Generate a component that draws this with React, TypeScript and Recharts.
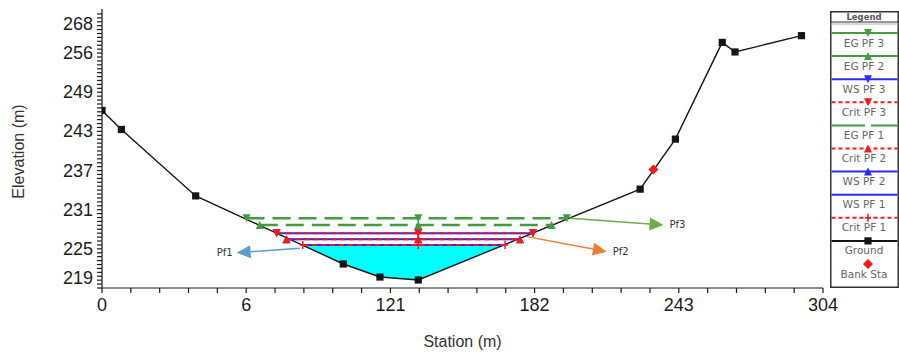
import React from 'react';
import { ComposedChart, Line, Area, Scatter, XAxis, YAxis, ReferenceLine, Legend, Label } from 'recharts';

// ---- Ground profile (station m, elevation m)
const groundStation = [0, 8.2, 39.6, 102.0, 117.5, 133.7, 227.5, 242.4, 262.2, 267.6, 295.7];
const groundElev = [247.1, 244.14, 233.8, 223.2, 221.17, 220.71, 234.85, 242.64, 257.7, 256.21, 258.75];
const bankStation = [233.1];
const bankElev = [237.9];

// ---- Water surface profiles
const profileNames = ['EG PF 3', 'EG PF 2', 'EG PF 1', 'WS PF 3', 'WS PF 2', 'WS PF 1', 'Crit PF 3', 'Crit PF 2', 'Crit PF 1'];
const profileElev = [230.33, 229.28, 227.05, 227.99, 227.05, 226.16, 227.99, 227.05, 226.16];
const profileLeft = [61.1, 66.7, 78.0, 73.8, 78.0, 84.9, 73.8, 78.0, 84.9];
const profileRight = [196.5, 190.1, 176.7, 182.2, 176.7, 170.4, 182.2, 176.7, 170.4];
const thalwegStation = 133.7;
const filledProfile = 'WS PF 1';

// ---- Annotation arrows
const arrowNames = ['Pf1', 'Pf2', 'Pf3'];
const arrowFromStation = [83.6, 179.6, 197.9];
const arrowFromElev = [225.65, 227.46, 230.33];
const arrowToStation = [56.9, 213.4, 237.4];
const arrowToElev = [224.96, 225.12, 229.28];

// ---- Axes
const xTickValues = [0, 60.96, 121.92, 182.88, 243.84, 304.8];
const xTickLabels = ['0', '6', '121', '182', '243', '304'];
const yTickValues = [219.46, 225.55, 231.65, 237.74, 243.84, 249.94, 256.03, 262.13];
const yTickLabels = ['219', '225', '231', '237', '243', '249', '256', '268'];
const xMinorStep = 12.192;
const yMinorStep = 0.6096;

const legendNames = ['EG PF 3', 'EG PF 2', 'WS PF 3', 'Crit PF 3', 'EG PF 1', 'Crit PF 2', 'WS PF 2', 'WS PF 1', 'Crit PF 1', 'Ground', 'Bank Sta'];

// ---- Styles
const GREEN = '#3f9f3f';
const BLUE = '#2a2aff';
const RED = '#ff1515';
const CYAN = '#00ffff';
const AXIS = '#1a1a1a';
const ARROW_COLORS: Record<string, string> = { Pf1: '#5b9bd5', Pf2: '#ed7d31', Pf3: '#70ad47' };

type Style = { color: string; dash?: string; width: number; marker: string; legendDash?: string };
const STYLES: Record<string, Style> = {
  'EG PF 3': { color: GREEN, dash: '18 8', width: 2.5, marker: 'down', legendDash: '' },
  'EG PF 2': { color: GREEN, dash: '18 8', width: 2.5, marker: 'up', legendDash: '' },
  'EG PF 1': { color: GREEN, width: 1.5, marker: 'none' },
  'WS PF 3': { color: BLUE, width: 2, marker: 'down' },
  'WS PF 2': { color: BLUE, width: 2, marker: 'up' },
  'WS PF 1': { color: BLUE, width: 2, marker: 'none' },
  'Crit PF 3': { color: RED, dash: '5 4', width: 2, marker: 'down', legendDash: '4 3' },
  'Crit PF 2': { color: RED, dash: '5 4', width: 2, marker: 'up', legendDash: '4 3' },
  'Crit PF 1': { color: RED, dash: '5 4', width: 2, marker: 'plus', legendDash: '4 3' },
  Ground: { color: '#151515', width: 1.4, marker: 'square' },
  'Bank Sta': { color: RED, width: 0, marker: 'diamond' },
};

const FONT = '"Liberation Sans", Arial, sans-serif';
const SMALL_FONT = '"DejaVu Sans", Verdana, sans-serif';

// ---- Derived data
const groundData = groundStation.map((x, i) => ({ x, y: groundElev[i] }));
const bankData = bankStation.map((x, i) => ({ x, y: bankElev[i] }));

function groundAt(s: number) {
  for (let i = 0; i < groundStation.length - 1; i++) {
    const a = groundStation[i], b = groundStation[i + 1];
    if (s >= a && s <= b) {
      const t = (s - a) / (b - a);
      return groundElev[i] + t * (groundElev[i + 1] - groundElev[i]);
    }
  }
  return groundElev[groundElev.length - 1];
}

const fillIdx = profileNames.indexOf(filledProfile);
const fillData = [
  profileLeft[fillIdx],
  ...groundStation.filter((s) => s > profileLeft[fillIdx] && s < profileRight[fillIdx]),
  profileRight[fillIdx],
].map((x) => ({ x, r: [Math.min(groundAt(x), profileElev[fillIdx]), profileElev[fillIdx]] }));

const profileData = profileNames.map((name, i) => ({
  name,
  data: [
    { x: profileLeft[i], y: profileElev[i] },
    { x: thalwegStation, y: profileElev[i] },
    { x: profileRight[i], y: profileElev[i] },
  ],
}));

const xTicks = Array.from({ length: Math.round(304.8 / xMinorStep) + 1 }, (_, i) => +(i * xMinorStep).toFixed(4));
const yTicks = Array.from({ length: 71 }, (_, i) => +(219.46 + i * yMinorStep).toFixed(4));

// ---- Marker shapes
function MarkerShape({ kind, cx, cy, color, s = 4 }: { kind: string; cx: number; cy: number; color: string; s?: number }) {
  if (cx == null || cy == null || kind === 'none') return null;
  switch (kind) {
    case 'down':
      return <polygon points={`${cx - s},${cy - s} ${cx + s},${cy - s} ${cx},${cy + s}`} fill={color} />;
    case 'up':
      return <polygon points={`${cx - s},${cy + s} ${cx + s},${cy + s} ${cx},${cy - s}`} fill={color} />;
    case 'square':
      return <rect x={cx - 3.6} y={cy - 3.6} width={7.2} height={7.2} fill={color} />;
    case 'diamond':
      return <polygon points={`${cx},${cy - 5} ${cx + 5},${cy} ${cx},${cy + 5} ${cx - 5},${cy}`} fill={color} />;
    case 'plus':
      return (
        <g stroke={color} strokeWidth={1.5}>
          <line x1={cx - 3} y1={cy} x2={cx + 3} y2={cy} />
          <line x1={cx} y1={cy - 4} x2={cx} y2={cy + 4} />
        </g>
      );
    default:
      return null;
  }
}

const makeDot = (name: string) => (props: any) => {
  const st = STYLES[name];
  return <MarkerShape key={`${name}-${props.index}`} kind={st.marker} cx={props.cx} cy={props.cy} color={st.color} />;
};

// ---- Ticks
const near = (a: number, b: number) => Math.abs(a - b) < 0.01;
const TICK_LEN = 5;

const XTick = (props: any) => {
  const { x, y, payload } = props;
  const i = xTickValues.findIndex((v) => near(v, payload.value));
  if (i < 0) return <g />;
  return (
    <text x={x} y={y} textAnchor="middle" dominantBaseline="hanging" fontFamily={FONT} fontSize={18} fill="#1c1c1c">
      {xTickLabels[i]}
    </text>
  );
};

const YTick = (props: any) => {
  const { x, y, payload } = props;
  const i = yTickValues.findIndex((v) => near(v, payload.value));
  if (i < 0) return <g />;
  let dy = 0;
  if (i === 0) dy = -10;
  if (i === yTickValues.length - 1) dy = 10;
  return (
    <text x={x} y={y + dy} textAnchor="end" dominantBaseline="central" fontFamily={FONT} fontSize={18} fill="#1c1c1c">
      {yTickLabels[i]}
    </text>
  );
};

// ---- Arrow annotation shape
const makeArrow = (name: string) => (props: any) => {
  const { x1, y1, x2, y2 } = props;
  const color = ARROW_COLORS[name];
  const ang = Math.atan2(y2 - y1, x2 - x1);
  const L = 14, W = 6.5;
  const bx = x2 - L * Math.cos(ang), by = y2 - L * Math.sin(ang);
  const px = -Math.sin(ang) * W, py = Math.cos(ang) * W;
  const leftward = x2 < x1;
  return (
    <g>
      <line x1={x1} y1={y1} x2={bx} y2={by} stroke={color} strokeWidth={1.5} />
      <polygon points={`${x2},${y2} ${bx + px},${by + py} ${bx - px},${by - py}`} fill={color} />
      <text
        x={leftward ? x2 - 4 : x2 + 6}
        y={y2}
        textAnchor={leftward ? 'end' : 'start'}
        dominantBaseline="central"
        fontFamily={SMALL_FONT}
        fontSize={10}
        fill="#333"
      >
        {name}
      </text>
    </g>
  );
};

// ---- Legend
const LegendBox = () => {
  const w = 69, h = 277;
  const cx = 38;
  return (
    <svg width={w} height={h} style={{ display: 'block' }}>
      <rect x={0.75} y={0.75} width={w - 1.5} height={h - 1.5} fill="#fff" stroke="#333" strokeWidth={1.5} />
      <text x={cx - 4} y={5.5} textAnchor="middle" dominantBaseline="central" fontFamily={SMALL_FONT} fontSize={8.5} fontWeight="bold" fill="#555">
        Legend
      </text>
      <line x1={0} y1={11} x2={w} y2={11} stroke="#333" strokeWidth={1} />
      <line x1={0} y1={13} x2={w} y2={13} stroke="#999" strokeWidth={0.8} />
      {legendNames.map((name, i) => {
        const st = STYLES[name];
        const ly = 22 + i * 23.1;
        return (
          <g key={name}>
            {st.width > 0 && (
              <line
                x1={1.5}
                y1={ly}
                x2={w - 1.5}
                y2={ly}
                stroke={st.color}
                strokeWidth={2}
                strokeDasharray={st.legendDash !== undefined ? st.legendDash || undefined : st.dash}
              />
            )}
            {st.marker === 'none' && name.startsWith('EG') && <rect x={cx - 3} y={ly - 2} width={6} height={4} fill="#fff" />}
            <MarkerShape kind={st.marker} cx={cx} cy={ly} color={st.color} />
            <text x={cx - 4} y={ly + 9.5} textAnchor="middle" dominantBaseline="central" fontFamily={SMALL_FONT} fontSize={10.5} fill="#666">
              {name}
            </text>
          </g>
        );
      })}
    </svg>
  );
};

export default function App() {
  return (
    <div style={{ position: 'absolute', left: 0, top: 0, width: 899, height: 353, background: '#fff' }}>
      <ComposedChart width={899} height={353} margin={{ top: 9, right: 76, bottom: 35, left: 0 }}>
        <XAxis
          type="number"
          dataKey="x"
          domain={[0, 304.8]}
          ticks={xTicks}
          interval={0}
          tick={<XTick />}
          tickLine={{ stroke: AXIS, strokeWidth: 1.2 }}
          tickSize={TICK_LEN}
          tickMargin={5}
          height={30}
          axisLine={{ stroke: AXIS, strokeWidth: 1.2 }}
          allowDataOverflow
        >
          <Label
            content={(p: any) => {
              const vb = p.viewBox;
              return (
                <text x={vb.x + vb.width / 2} y={vb.y + 53} textAnchor="middle" dominantBaseline="central" fontFamily={FONT} fontSize={16} fill="#333">
                  Station (m)
                </text>
              );
            }}
          />
        </XAxis>
        <YAxis
          type="number"
          dataKey="y"
          domain={[219.46, 262.9]}
          ticks={yTicks}
          interval={0}
          tick={<YTick />}
          tickLine={{ stroke: AXIS, strokeWidth: 1.2 }}
          tickSize={TICK_LEN}
          tickMargin={4}
          width={102}
          axisLine={{ stroke: AXIS, strokeWidth: 1.2 }}
          allowDataOverflow
        >
          <Label
            content={(p: any) => {
              const vb = p.viewBox;
              const x = vb.x + 18;
              const y = vb.y + vb.height / 2 + 3;
              return (
                <text x={x} y={y} transform={`rotate(-90, ${x}, ${y})`} textAnchor="middle" dominantBaseline="central" fontFamily={FONT} fontSize={16} fill="#333">
                  Elevation (m)
                </text>
              );
            }}
          />
        </YAxis>

        <Area data={fillData} dataKey="r" type="linear" fill={CYAN} fillOpacity={1} stroke="none" isAnimationActive={false} />

        <Line data={groundData} dataKey="y" name="Ground" stroke={STYLES.Ground.color} strokeWidth={STYLES.Ground.width} dot={makeDot('Ground')} activeDot={false} isAnimationActive={false} />

        {profileData.map((p) => {
          const st = STYLES[p.name];
          return (
            <Line
              key={p.name}
              data={p.data}
              dataKey="y"
              name={p.name}
              stroke={st.color}
              strokeWidth={st.width}
              strokeDasharray={st.dash}
              dot={makeDot(p.name)}
              activeDot={false}
              isAnimationActive={false}
            />
          );
        })}

        <Scatter
          data={bankData}
          dataKey="y"
          name="Bank Sta"
          isAnimationActive={false}
          shape={(props: any) => <MarkerShape kind="diamond" cx={props.cx} cy={props.cy} color={STYLES['Bank Sta'].color} />}
        />

        {arrowNames.map((name, i) => (
          <ReferenceLine
            key={name}
            segment={[
              { x: arrowFromStation[i], y: arrowFromElev[i] },
              { x: arrowToStation[i], y: arrowToElev[i] },
            ]}
            ifOverflow="visible"
            shape={makeArrow(name)}
          />
        ))}

        <Legend
          layout="vertical"
          align="center"
          verticalAlign="middle"
          wrapperStyle={{ left: 830, top: 11, width: 69, height: 277 }}
          content={() => <LegendBox />}
        />
      </ComposedChart>
    </div>
  );
}
